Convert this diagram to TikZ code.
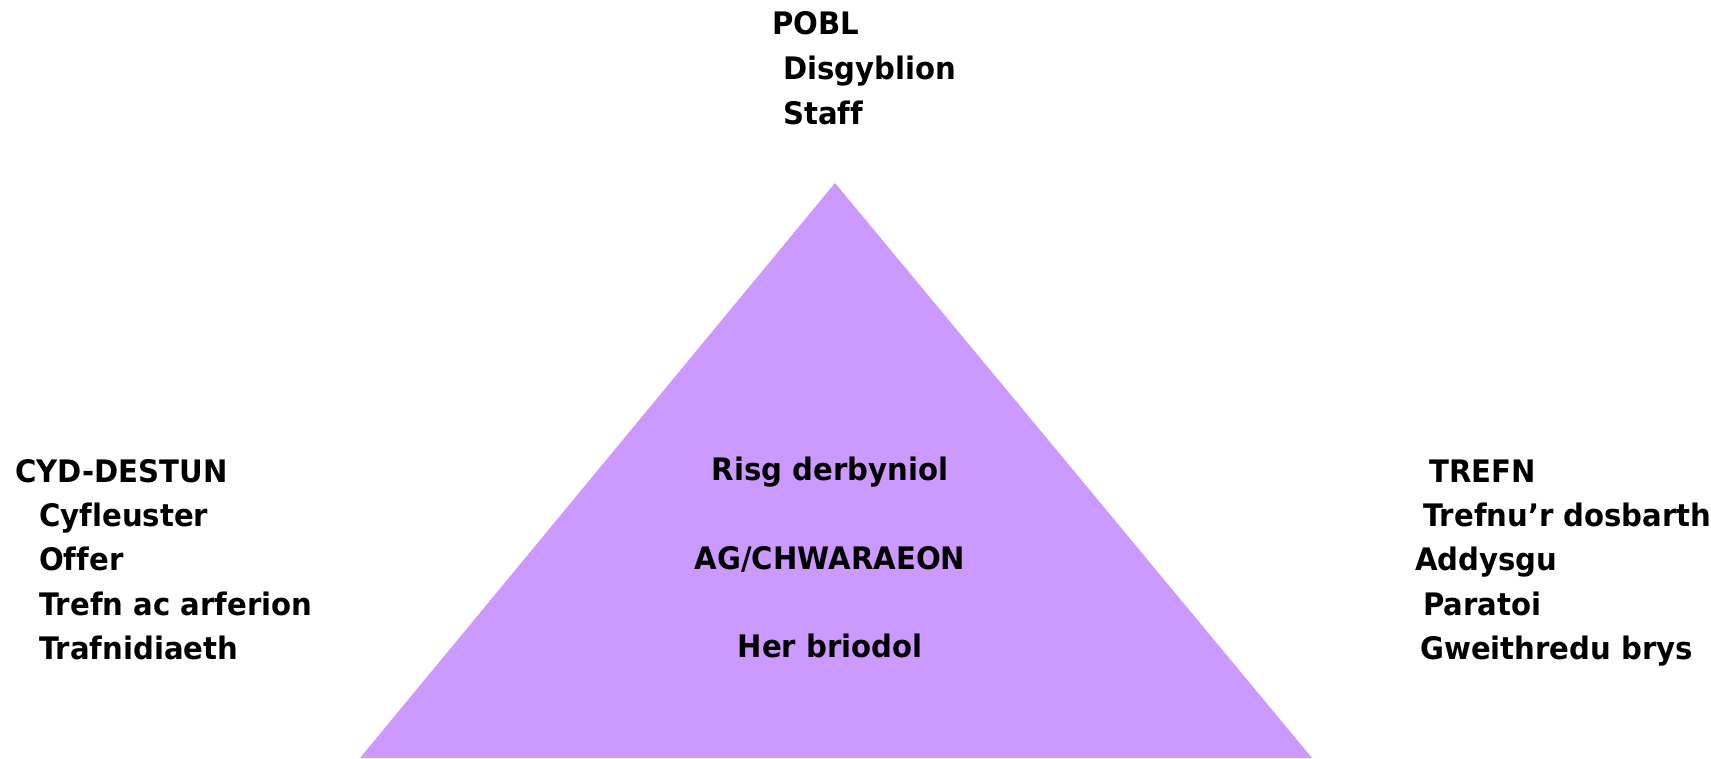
\documentclass[tikz,border=0pt]{standalone}
\usepackage{fontspec}
\setmainfont{DejaVu Sans}[BoldFont={DejaVu Sans Bold}]
\newfontfamily\lblfont{DejaVu Sans Bold}[FakeStretch=0.94,Ligatures=NoCommon]
\definecolor{tri}{HTML}{CC99FF}
\begin{document}
\begin{tikzpicture}[x=1pt,y=-1pt,
  lbl/.style={anchor=base west,inner sep=0pt,font=\lblfont\fontsize{31}{36}\selectfont},
  clbl/.style={anchor=base,inner sep=0pt,font=\lblfont\fontsize{31}{36}\selectfont}]
\useasboundingbox (0,0) rectangle (1711,758);
\fill[tri] (835,183) coordinate (apex) -- (1312,758) coordinate (br) -- (360,758) coordinate (bl) -- cycle;
% top
\node[lbl] (pobl) at (772,34) {POBL};
\node[lbl] (disg) at (783,79) {Disgyblion};
\node[lbl] (staff) at (783,124) {Staff};
% left
\node[lbl] (cyd) at (15,482.5) {CYD-DESTUN};
\node[lbl] (cyf) at (39,526.7) {Cyfleuster};
\node[lbl] (off) at (39,570.9) {Offer};
\node[lbl] (tac) at (39,615.1) {Trefn ac arferion};
\node[lbl] (traf) at (39,659.3) {Trafnidiaeth};
% centre
\node[clbl] (risg) at (830,480) {Risg derbyniol};
\node[clbl] (ag) at (830,569) {AG/CHWARAEON};
\node[clbl] (her) at (830,657) {Her briodol};
% right
\node[lbl] (trefn) at (1429,482.5) {TREFN};
\node[lbl] (tdos) at (1423,526.7) {Trefnu’r dosbarth};
\node[lbl] (addy) at (1415,570.9) {Addysgu};
\node[lbl] (para) at (1423,615.1) {Paratoi};
\node[lbl] (gwei) at (1420,659.3) {Gweithredu brys};
\end{tikzpicture}
\end{document}
